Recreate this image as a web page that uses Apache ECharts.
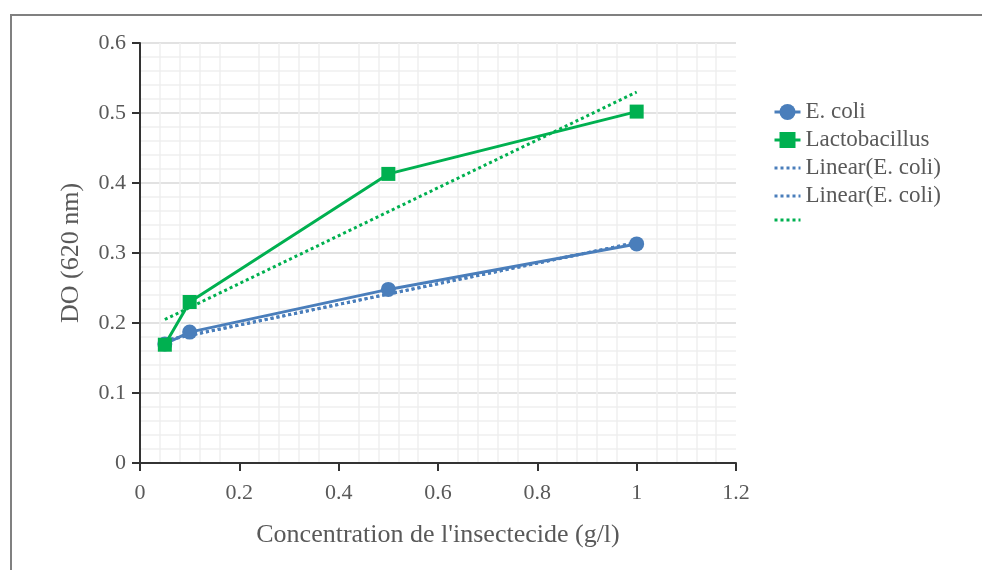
<!DOCTYPE html>
<html>
<head>
<meta charset="utf-8">
<script src="https://cdn.jsdelivr.net/npm/echarts@6/dist/echarts.min.js"></script>
<style>
  html, body { margin: 0; padding: 0; background: #fff; }
  #main { width: 982px; height: 570px; }
</style>
</head>
<body>
<div id="main"></div>
<script>
// concentration (g/l) -> DO (620 nm)
var eColi = [[0.05, 0.170], [0.1, 0.187], [0.5, 0.248], [1, 0.313]]
var lacto = [[0.05, 0.169], [0.1, 0.230], [0.5, 0.413], [1, 0.502]]
// trend lines (end points)
var eColiTrend = [[0.05, 0.175], [1, 0.315]]
var lactoTrend = [[0.05, 0.205], [1, 0.530]]

var legendNames = ['E. coli', 'Lactobacillus', 'Linear(E. coli)', 'Linear(E. coli) ', ' ']
var xTicks = { min: 0, max: 1.2, step: 0.2 }
var yTicks = { min: 0, max: 0.6, step: 0.1 }

var blue = '#4a7ebb'
var green = '#00b050'
var font = '"Liberation Serif", "Times New Roman", serif'

var chart = echarts.init(document.getElementById('main'))

// trend lines: only the dotted line in the legend, no marker
var legendData = legendNames.map(function (name, i) {
  if (i < 2) return { name: name, lineStyle: { width: 3 } }
  return { name: name, itemStyle: { opacity: 0 }, lineStyle: { width: 3, type: [3, 3] } }
})

var option = {
  animation: false,
  textStyle: { fontFamily: font },
  grid: { left: 140, right: 246, top: 43, bottom: 107 },
  legend: {
    orient: 'vertical',
    left: 768,
    top: 95,
    itemWidth: 26,
    itemHeight: 20,
    itemGap: 4,
    data: legendData,
    formatter: function (name) { return name.trim() },
    textStyle: { fontFamily: font, fontSize: 23, lineHeight: 24, color: '#595959' }
  },
  xAxis: {
    type: 'value',
    min: xTicks.min,
    max: xTicks.max,
    interval: xTicks.step,
    name: "Concentration de l'insectecide (g/l)",
    nameLocation: 'middle',
    nameGap: 59,
    nameTextStyle: { fontFamily: font, fontSize: 26, color: '#595959' },
    axisLine: { onZero: false, lineStyle: { color: '#333', width: 2 } },
    axisTick: { length: 8, lineStyle: { color: '#333', width: 2 } },
    axisLabel: { fontFamily: font, fontSize: 22, color: '#595959', margin: 19 },
    splitLine: { show: false },
    minorTick: { show: false, splitNumber: 5 },
    minorSplitLine: { show: true, lineStyle: { color: '#efefef', width: 1.5 } }
  },
  yAxis: {
    type: 'value',
    min: yTicks.min,
    max: yTicks.max,
    interval: yTicks.step,
    name: 'DO (620 nm)',
    nameLocation: 'middle',
    nameGap: 56,
    nameTextStyle: { fontFamily: font, fontSize: 26, color: '#595959' },
    axisLine: { show: true, lineStyle: { color: '#333', width: 2 } },
    axisTick: { show: true, length: 8, lineStyle: { color: '#333', width: 2 } },
    axisLabel: { fontFamily: font, fontSize: 22, color: '#595959', margin: 14 },
    splitLine: { show: true, lineStyle: { color: '#d9d9d9', width: 1.5 } },
    minorTick: { show: false, splitNumber: 5 },
    minorSplitLine: { show: true, lineStyle: { color: '#efefef', width: 1.5 } }
  },
  series: [
    {
      name: legendNames[0],
      type: 'line',
      data: eColi,
      symbol: 'circle',
      symbolSize: 15,
      itemStyle: { color: blue },
      lineStyle: { color: blue, width: 3 },
      z: 3
    },
    {
      name: legendNames[1],
      type: 'line',
      data: lacto,
      symbol: 'rect',
      symbolSize: 14,
      itemStyle: { color: green },
      lineStyle: { color: green, width: 3 },
      z: 4
    },
    {
      name: legendNames[2],
      type: 'line',
      data: eColiTrend,
      symbol: 'none',
      itemStyle: { color: blue },
      lineStyle: { color: blue, width: 3, type: [3, 3] },
      z: 2
    },
    {
      name: legendNames[3],
      type: 'line',
      data: eColiTrend,
      symbol: 'none',
      itemStyle: { color: blue },
      lineStyle: { color: blue, width: 3, type: [3, 3] },
      z: 2
    },
    {
      name: legendNames[4],
      type: 'line',
      data: lactoTrend,
      symbol: 'none',
      itemStyle: { color: green },
      lineStyle: { color: green, width: 3, type: [3, 3] },
      z: 2
    }
  ],
  graphic: [
    {
      type: 'polyline',
      shape: { points: [[11, 570], [11, 15], [982, 15]] },
      style: { stroke: '#808080', lineWidth: 2, fill: null },
      silent: true
    }
  ]
}

chart.setOption(option, true)
</script>
</body>
</html>
